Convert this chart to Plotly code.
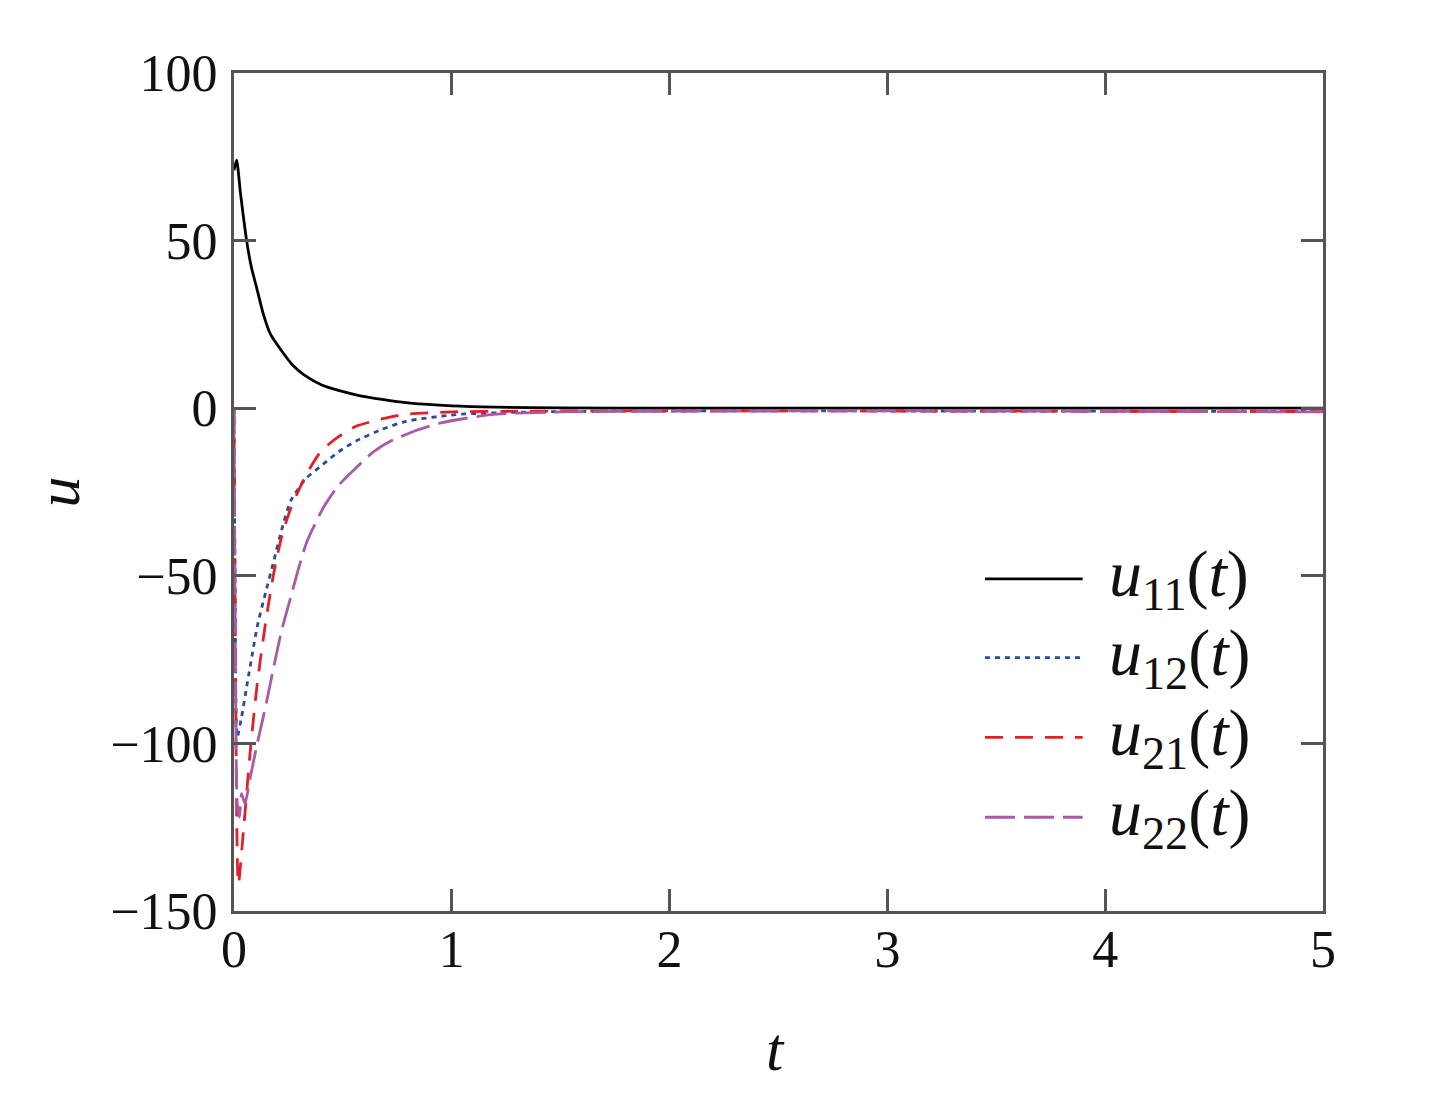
import plotly.graph_objects as go

# ---- data ----
t11 = [0, 0.012, 0.03, 0.058, 0.08, 0.105, 0.135, 0.168, 0.22, 0.27, 0.32, 0.40, 0.48, 0.56, 0.68, 0.81, 1.0, 1.2, 1.5, 2, 3, 4, 5]
u11 = [71, 74, 64, 50, 42, 35.7, 28, 22, 17, 12.8, 10, 7, 5.3, 4, 2.6, 1.5, 0.7, 0.3, 0.1, 0, 0, 0, 0]

t12 = [0, 0.005, 0.015, 0.035, 0.061, 0.085, 0.107, 0.145, 0.183, 0.22, 0.26, 0.33, 0.41, 0.48, 0.56, 0.68, 0.79, 1.02, 1.3, 1.7, 2.5, 5]
u12 = [0, -50, -98, -92, -82, -73, -65, -55, -45.5, -36, -27.7, -21, -16.7, -13, -9.8, -6.3, -3.9, -1.9, -1.2, -0.9, -0.8, -1.0]

t21 = [0, 0.005, 0.02, 0.046, 0.075, 0.107, 0.145, 0.183, 0.22, 0.26, 0.33, 0.40, 0.48, 0.56, 0.68, 0.79, 1.0, 1.3, 1.7, 2.5, 5]
u21 = [0, -60, -142, -124, -102, -82, -64, -49, -38, -30, -20, -12.8, -8.5, -5.4, -3.2, -1.8, -1.1, -0.9, -0.8, -0.8, -1.0]

t22 = [0, 0.005, 0.015, 0.025, 0.035, 0.05, 0.075, 0.107, 0.145, 0.183, 0.22, 0.26, 0.30, 0.336, 0.41, 0.48, 0.56, 0.64, 0.72, 0.83, 0.95, 1.18, 1.5, 2, 3, 5]
u22 = [0, -60, -118, -122, -115, -118, -110, -100, -89, -77, -66, -56.5, -47, -39.6, -29.7, -23, -17.8, -13, -9.8, -6.8, -4.4, -1.9, -1.1, -0.9, -0.8, -1.1]

x_ticks = [0, 1, 2, 3, 4, 5]
y_ticks = [100, 50, 0, -50, -100, -150]

names = ["<i>u</i><sub>11</sub>(<i>t</i>)", "<i>u</i><sub>12</sub>(<i>t</i>)",
         "<i>u</i><sub>21</sub>(<i>t</i>)", "<i>u</i><sub>22</sub>(<i>t</i>)"]
colors = ["#000000", "#2B4C9B", "#E0202A", "#A85CA8"]
dashes = ["solid", "5px,5px", "18px,12px", "30px,9px"]

series = [(t11, u11), (t12, u12), (t21, u21), (t22, u22)]

fig = go.Figure()
for (tt, uu), nm, c, d in zip(series, names, colors, dashes):
    fig.add_trace(go.Scatter(x=tt, y=uu, mode="lines", name=nm,
                             line=dict(color=c, width=2.8, dash=d, shape="spline", smoothing=0.6),
                             showlegend=False))

FONT = "Liberation Serif"

axis_common = dict(showgrid=False, zeroline=False, showline=True, linecolor="#555555", linewidth=3,
                   mirror="ticks", ticks="inside", ticklen=22, tickwidth=3, tickcolor="#555555",
                   automargin=False,
                   tickfont=dict(family=FONT, size=52, color="#111111"))

fig.update_xaxes(range=[0, 5], tickvals=x_ticks, ticklabelstandoff=-9, **axis_common)
fig.update_yaxes(range=[-150, 100], tickvals=y_ticks, ticklabelstandoff=3, **axis_common)

# manual legend (sample lines + labels)
leg_y = [0.3964, 0.3024, 0.2071, 0.1119]
for y, nm, c, d in zip(leg_y, names, colors, dashes):
    fig.add_shape(type="line", xref="paper", yref="paper", x0=0.6896, x1=0.7793, y0=y, y1=y,
                  line=dict(color=c, width=2.8, dash=d))
    fig.add_annotation(xref="paper", yref="paper", x=0.802, y=y, xanchor="left", yanchor="middle",
                       text=nm, showarrow=False, font=dict(family=FONT, size=66, color="#111111"))

# axis titles
fig.add_annotation(xref="paper", yref="paper", x=0.497, y=-0.165, xanchor="center", yanchor="middle",
                   text="<i>t</i>", showarrow=False, font=dict(family=FONT, size=62, color="#111111"))
fig.add_annotation(xref="paper", yref="paper", x=-0.162, y=0.5, xanchor="center", yanchor="middle",
                   text="<i>u</i>", textangle=-90, showarrow=False,
                   font=dict(family=FONT, size=62, color="#111111"))

fig.update_layout(width=1445, height=1094, margin=dict(l=226, r=130, t=65, b=191),
                  paper_bgcolor="white", plot_bgcolor="white", showlegend=False)

fig.write_html("out.html")
